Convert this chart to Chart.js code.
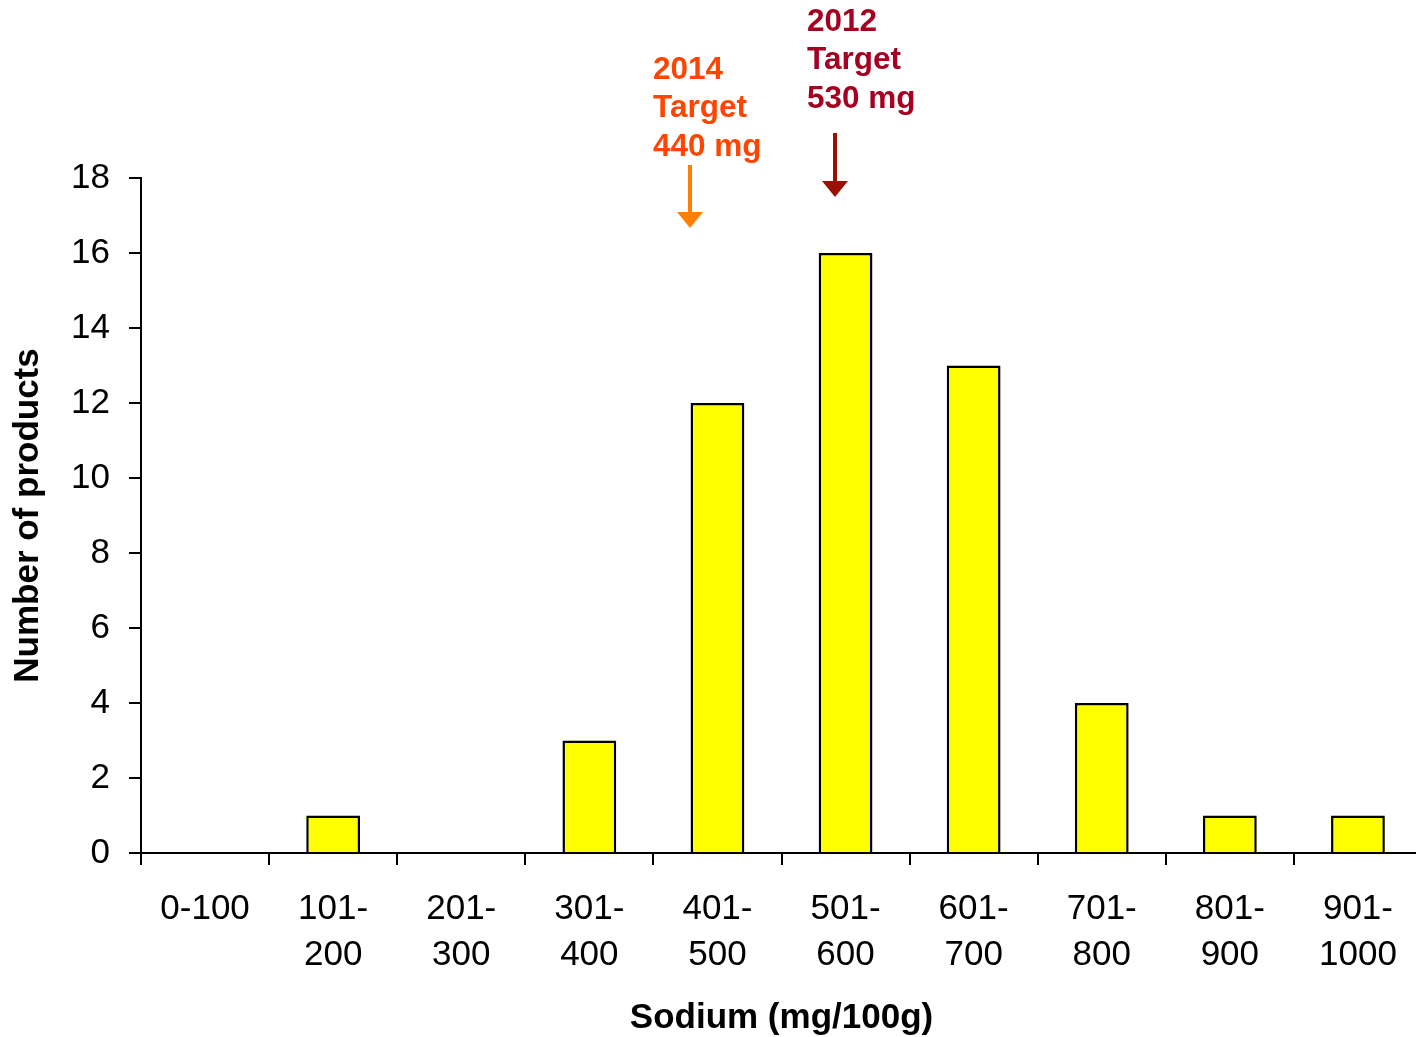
<!DOCTYPE html>
<html>
<head>
<meta charset="utf-8">
<script src="https://cdn.jsdelivr.net/npm/chart.js@4/dist/chart.umd.min.js"></script>
<style>
  html,body{margin:0;padding:0;background:#fff;overflow:hidden;}
  #wrap{width:1422px;height:1037px;position:relative;}
</style>
</head>
<body>
<div id="wrap"><canvas id="chart"></canvas></div>
<script>
// sodium bands (mg/100g) and product counts
const categories = [["0-100"],["101-","200"],["201-","300"],["301-","400"],["401-","500"],
                    ["501-","600"],["601-","700"],["701-","800"],["801-","900"],["901-","1000"]];
const productCounts = [0, 1, 0, 3, 12, 16, 13, 4, 1, 1];
const yTicks = [0, 2, 4, 6, 8, 10, 12, 14, 16, 18];

const FONT = "'Liberation Sans', Arial, sans-serif";

// target notes + arrows above the bars
const targetsPlugin = {
  id: "targets",
  afterDraw(chart){
    const c = chart.ctx;
    c.save();
    c.font = "bold 31.5px " + FONT;
    c.textAlign = "left"; c.textBaseline = "middle";
    c.fillStyle = "#FF4500";
    ["2014","Target","440 mg"].forEach((t,i)=>c.fillText(t, 653, 70 + i*38.5));
    c.fillStyle = "#A50021";
    ["2012","Target","530 mg"].forEach((t,i)=>c.fillText(t, 807, 22 + i*38.5));
    const arrow = (x, y0, y1, col)=>{
      c.strokeStyle = col; c.fillStyle = col; c.lineWidth = 4;
      c.beginPath(); c.moveTo(x, y0); c.lineTo(x, y1 - 14); c.stroke();
      c.beginPath(); c.moveTo(x - 13, y1 - 16); c.lineTo(x + 13, y1 - 16); c.lineTo(x, y1); c.closePath(); c.fill();
    };
    arrow(690, 165, 228, "#FF8000");
    arrow(835, 133, 197, "#991100");
    c.restore();
  }
};

new Chart(document.getElementById("chart"), {
  type: "bar",
  data: {
    labels: categories,
    datasets: [{
      data: productCounts,
      backgroundColor: "#FFFF00",
      borderColor: "#000",
      borderWidth: 2.5,
      barPercentage: 0.42,
      categoryPercentage: 1
    }]
  },
  options: {
    responsive: true, maintainAspectRatio: false, animation: false,
    layout: { padding: { top: 178, right: 0, left: 0, bottom: 0 } },
    plugins: { legend: { display: false }, tooltip: { enabled: false } },
    scales: {
      x: {
        afterFit: s => { s.height = 184; },
        border: { display: true, color: "#000", width: 2 },
        grid: { display: true, drawOnChartArea: false, drawTicks: true, tickLength: 12, color: "#000", lineWidth: 2, offset: true },
        ticks: { color: "#000", font: { family: FONT, size: 35, lineHeight: 1.32 }, padding: 21, maxRotation: 0, autoSkip: false },
        title: { display: true, text: "Sodium (mg/100g)", color: "#000", font: { family: FONT, size: 35, weight: "bold", lineHeight: 1.05 }, padding: { top: 0, bottom: 0 } }
      },
      y: {
        min: 0, max: 18,
        afterFit: s => { s.width = 141; },
        afterBuildTicks: s => { s.ticks = yTicks.map(v => ({ value: v })); },
        border: { display: true, color: "#000", width: 2 },
        grid: { display: true, drawOnChartArea: false, drawTicks: true, tickLength: 12, color: "#000", lineWidth: 2 },
        ticks: { color: "#000", font: { family: FONT, size: 35 }, padding: 19 },
        title: { display: true, text: "Number of products", color: "#000", font: { family: FONT, size: 35, weight: "bold" }, padding: { top: 7, bottom: 0 } }
      }
    }
  },
  plugins: [targetsPlugin]
});
</script>
</body>
</html>
